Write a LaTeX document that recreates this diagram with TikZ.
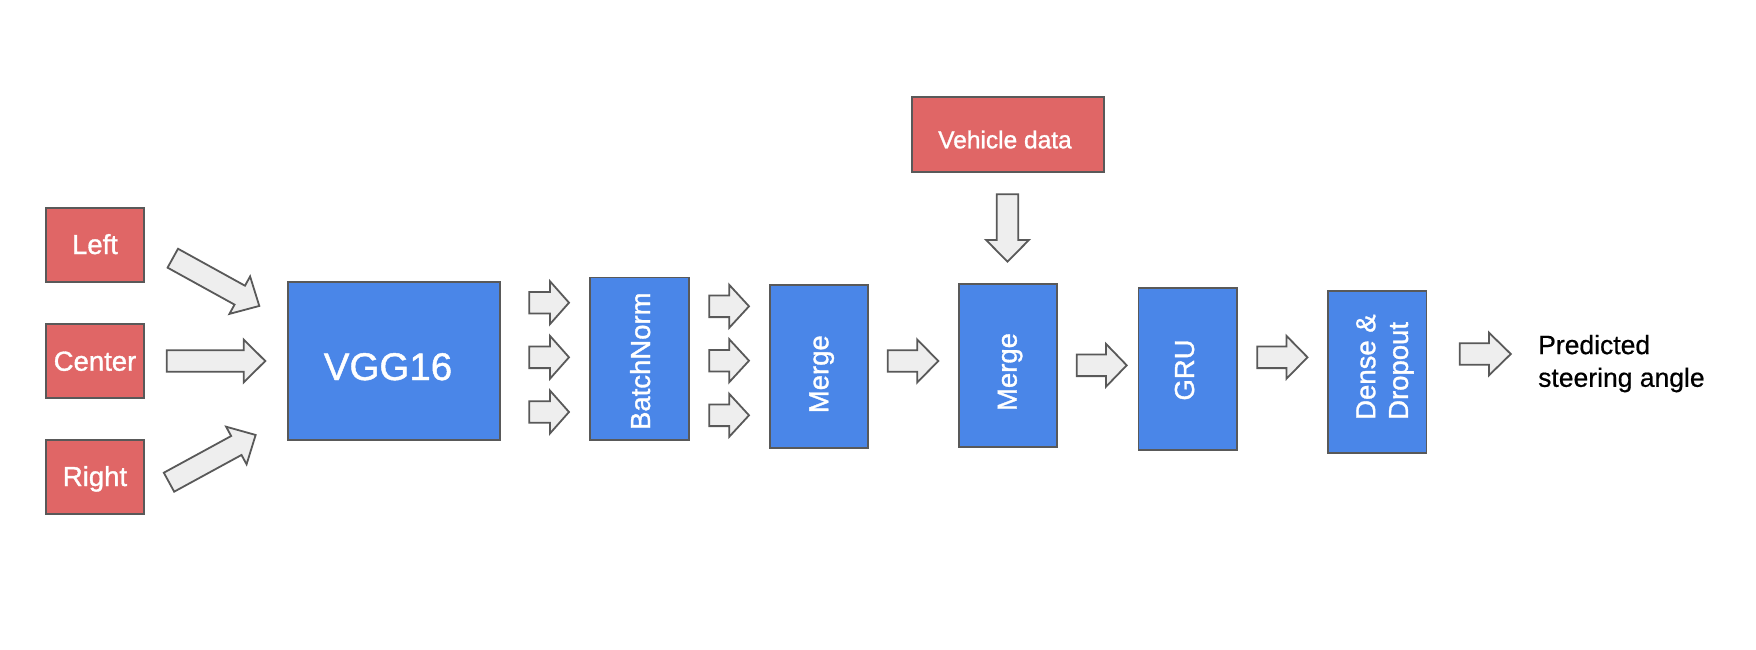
\documentclass[tikz,border=0pt]{standalone}
\usepackage{fontspec}
\setmainfont{Liberation Sans}
\newfontfamily\boxfont{Liberation Sans}[FakeBold=1.2]
\newfontfamily\outfont{Liberation Sans}[FakeBold=0.6]
\usetikzlibrary{calc}
\definecolor{boxred}{HTML}{E06666}
\definecolor{boxblue}{HTML}{4A86E8}
\definecolor{edgegray}{HTML}{595959}
\definecolor{arrowfill}{HTML}{EEEEEE}
\tikzset{
  redbox/.style={draw=edgegray, fill=boxred, line width=1.8pt, inner sep=0pt},
  bluebox/.style={draw=edgegray, fill=boxblue, line width=1.8pt, inner sep=0pt},
  wtext/.style={text=white, inner sep=0pt, font=\boxfont\fontsize{27.5}{32.7}\selectfont},
  vtext/.style={wtext, rotate=90, anchor=base},
  blockarrow/.style={draw=edgegray, fill=arrowfill, line width=1.8pt, line join=miter},
}
% tail centre x, y, angle, total length, head length
\newcommand{\barrow}[5]{%
  \draw[blockarrow, shift={(#1,#2)}, rotate=#3]
    (0,-10.8) -- ({#4-#5},-10.8) -- ({#4-#5},-21.4) -- (#4,0) --
    ({#4-#5},21.4) -- ({#4-#5},10.8) -- (0,10.8) -- cycle;}
\begin{document}
\begin{tikzpicture}[x=1pt, y=-1pt]
\useasboundingbox (0,0) rectangle (1756,650);
\fill[white] (0,0) rectangle (1756,650);

% boxes
\node[redbox, minimum width=98pt, minimum height=74pt] (left) at (95,245) {};
\node[redbox, minimum width=98pt, minimum height=74pt] (center) at (95,361) {};
\node[redbox, minimum width=98pt, minimum height=74pt] (right) at (95,477) {};
\node[bluebox, minimum width=212pt, minimum height=158pt] (vgg) at (394,361) {};
\node[bluebox, minimum width=98.7pt, minimum height=162.5pt] (bn) at (639.35,358.75) {};
\node[bluebox, minimum width=98.3pt, minimum height=162.7pt] (merge1) at (819.15,366.35) {};
\node[bluebox, minimum width=98.6pt, minimum height=162.7pt] (merge2) at (1008,365.35) {};
\node[redbox, minimum width=192.3pt, minimum height=75pt] (vehicle) at (1007.85,134.2) {};
\node[bluebox, minimum width=98.8pt, minimum height=162.3pt] (gru) at (1187.8,368.85) {};
\node[bluebox, minimum width=98.4pt, minimum height=162pt] (dense) at (1377.2,371.7) {};

% texts
\node[wtext, anchor=base] (lefttxt) at (95,254) {Left};
\node[wtext, anchor=base] (centertxt) at (95,370.7) {Center};
\node[wtext, anchor=base] (righttxt) at (95,486) {Right};
\node[wtext, anchor=base, font=\boxfont\fontsize{38.5}{40}\selectfont] (vggtxt) at (388,380) {VGG16};
\node[wtext, anchor=base, font=\boxfont\fontsize{24.5}{28}\selectfont] (vehicletxt) at (1005,148.3) {Vehicle data};
\node[vtext] (bntxt) at (650,361.2) {BatchNorm};
\node[vtext] (m1txt) at (828.3,374.2) {Merge};
\node[vtext] (m2txt) at (1016.7,372) {Merge};
\node[vtext] (grutxt) at (1194,370) {GRU};
\node[wtext, rotate=90, align=left, anchor=north west] (densetxt) at (1356,420) {Dense \&\\Dropout};
\node[inner sep=0pt, align=left, anchor=north west, font=\outfont\fontsize{26.5}{32.7}\selectfont] (out) at (1538,334.7) {Predicted\\steering angle};

% block arrows
\barrow{172.8}{258.2}{-28.9}{98.8}{22.3}
\barrow{166.7}{361}{0}{98.6}{21.6}
\barrow{169}{482.2}{28.6}{98.7}{22}
\barrow{529.3}{302.7}{0}{39.7}{19}
\barrow{529.3}{357.3}{0}{39.7}{19}
\barrow{529.3}{412}{0}{39.7}{19}
\barrow{709.3}{306.3}{0}{39.7}{19.7}
\barrow{709.3}{360.7}{0}{39.7}{19.7}
\barrow{709.3}{415.3}{0}{39.7}{19.7}
\barrow{887.7}{361}{0}{50.6}{21}
\barrow{1007.5}{194.3}{-90}{67.4}{21.7}
\barrow{1076.7}{365.3}{0}{50}{20.7}
\barrow{1257.3}{357.3}{0}{50.2}{21}
\barrow{1459.8}{354}{0}{51}{21.9}
\end{tikzpicture}
\end{document}
